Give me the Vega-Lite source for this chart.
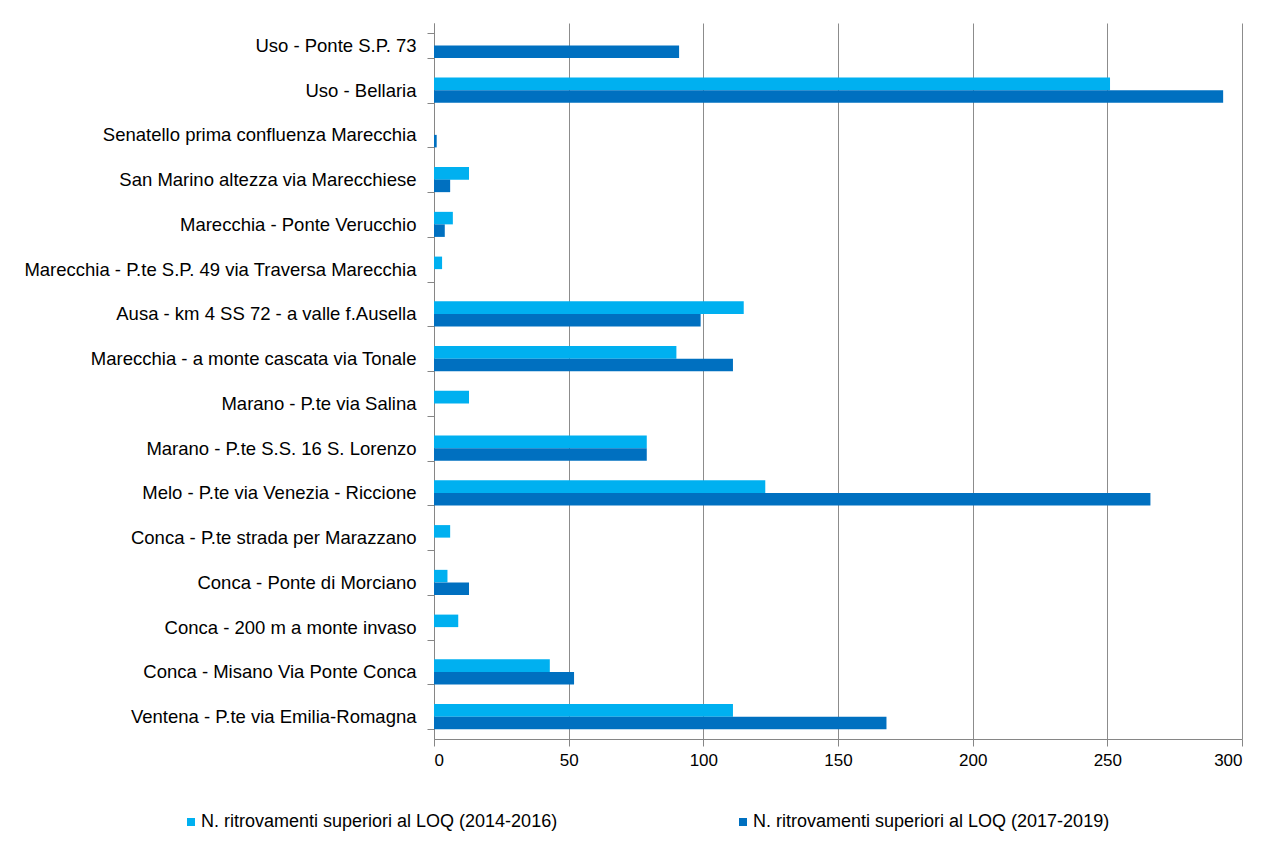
{
  "$schema": "https://vega.github.io/schema/vega-lite/v6.json",
  "autosize": {"type": "none"},
  "width": 808,
  "height": 716,
  "padding": {"left": 434, "top": 23, "right": 36, "bottom": 121},
  "background": "white",
  "config": {
    "font": "Liberation Sans",
    "view": {"stroke": null}
  },
  "data": {
    "values": [
      {"station": "Uso - Ponte S.P. 73", "series": "N. ritrovamenti superiori al LOQ (2017-2019)", "value": 91},
      {"station": "Uso - Bellaria ", "series": "N. ritrovamenti superiori al LOQ (2014-2016)", "value": 251},
      {"station": "Uso - Bellaria ", "series": "N. ritrovamenti superiori al LOQ (2017-2019)", "value": 293},
      {"station": "Senatello prima confluenza Marecchia", "series": "N. ritrovamenti superiori al LOQ (2017-2019)", "value": 1},
      {"station": "San Marino  altezza  via Marecchiese", "series": "N. ritrovamenti superiori al LOQ (2014-2016)", "value": 13},
      {"station": "San Marino  altezza  via Marecchiese", "series": "N. ritrovamenti superiori al LOQ (2017-2019)", "value": 6},
      {"station": "Marecchia - Ponte Verucchio", "series": "N. ritrovamenti superiori al LOQ (2014-2016)", "value": 7},
      {"station": "Marecchia - Ponte Verucchio", "series": "N. ritrovamenti superiori al LOQ (2017-2019)", "value": 4},
      {"station": "Marecchia - P.te S.P. 49 via Traversa  Marecchia", "series": "N. ritrovamenti superiori al LOQ (2014-2016)", "value": 3},
      {"station": "Ausa - km 4 SS 72  - a valle f.Ausella", "series": "N. ritrovamenti superiori al LOQ (2014-2016)", "value": 115},
      {"station": "Ausa - km 4 SS 72  - a valle f.Ausella", "series": "N. ritrovamenti superiori al LOQ (2017-2019)", "value": 99},
      {"station": "Marecchia - a monte cascata via Tonale", "series": "N. ritrovamenti superiori al LOQ (2014-2016)", "value": 90},
      {"station": "Marecchia - a monte cascata via Tonale", "series": "N. ritrovamenti superiori al LOQ (2017-2019)", "value": 111},
      {"station": "Marano - P.te via Salina", "series": "N. ritrovamenti superiori al LOQ (2014-2016)", "value": 13},
      {"station": "Marano - P.te S.S. 16  S. Lorenzo", "series": "N. ritrovamenti superiori al LOQ (2014-2016)", "value": 79},
      {"station": "Marano - P.te S.S. 16  S. Lorenzo", "series": "N. ritrovamenti superiori al LOQ (2017-2019)", "value": 79},
      {"station": "Melo - P.te via Venezia  - Riccione", "series": "N. ritrovamenti superiori al LOQ (2014-2016)", "value": 123},
      {"station": "Melo - P.te via Venezia  - Riccione", "series": "N. ritrovamenti superiori al LOQ (2017-2019)", "value": 266},
      {"station": "Conca - P.te strada per Marazzano", "series": "N. ritrovamenti superiori al LOQ (2014-2016)", "value": 6},
      {"station": "Conca - Ponte di Morciano", "series": "N. ritrovamenti superiori al LOQ (2014-2016)", "value": 5},
      {"station": "Conca - Ponte di Morciano", "series": "N. ritrovamenti superiori al LOQ (2017-2019)", "value": 13},
      {"station": "Conca - 200  m a monte invaso", "series": "N. ritrovamenti superiori al LOQ (2014-2016)", "value": 9},
      {"station": "Conca - Misano Via Ponte Conca", "series": "N. ritrovamenti superiori al LOQ (2014-2016)", "value": 43},
      {"station": "Conca - Misano Via Ponte Conca", "series": "N. ritrovamenti superiori al LOQ (2017-2019)", "value": 52},
      {"station": "Ventena - P.te via Emilia-Romagna", "series": "N. ritrovamenti superiori al LOQ (2014-2016)", "value": 111},
      {"station": "Ventena - P.te via Emilia-Romagna", "series": "N. ritrovamenti superiori al LOQ (2017-2019)", "value": 168}
    ]
  },
  "mark": {"type": "bar"},
  "encoding": {
    "y": {
      "field": "station",
      "type": "nominal",
      "sort": null,
      "scale": {"paddingInner": 0.44, "paddingOuter": 0.22},
      "axis": {
        "title": null,
        "labelFontSize": 18.5,
        "labelColor": "#000000",
        "labelPadding": 11,
        "labelLimit": 500,
        "tickBand": "extent",
        "tickSize": 7,
        "tickColor": "#868686",
        "domainColor": "#868686",
        "grid": false
      }
    },
    "yOffset": {
      "field": "series",
      "type": "nominal",
      "sort": ["N. ritrovamenti superiori al LOQ (2014-2016)", "N. ritrovamenti superiori al LOQ (2017-2019)"],
      "scale": {"paddingInner": 0, "paddingOuter": 0}
    },
    "x": {
      "field": "value",
      "type": "quantitative",
      "scale": {"domain": [0, 300], "nice": false},
      "axis": {
        "title": null,
        "values": [0, 50, 100, 150, 200, 250, 300],
        "labelFontSize": 17,
        "labelColor": "#000000",
        "labelPadding": 6,
        "tickSize": 7,
        "tickColor": "#868686",
        "domainColor": "#868686",
        "gridColor": "#8c8c8c",
        "gridOpacity": 1,
        "grid": true
      }
    },
    "color": {
      "field": "series",
      "type": "nominal",
      "scale": {
        "domain": ["N. ritrovamenti superiori al LOQ (2014-2016)", "N. ritrovamenti superiori al LOQ (2017-2019)"],
        "range": ["#00B0F0", "#0070C0"]
      },
      "legend": {
        "title": null,
        "orient": "none",
        "legendX": -252,
        "legendY": 790,
        "direction": "horizontal",
        "symbolType": "square",
        "symbolSize": 64,
        "symbolStrokeWidth": 0,
        "labelFontSize": 18,
        "labelColor": "#000000",
        "labelOffset": 1,
        "labelLimit": 500,
        "columnPadding": 176
      }
    }
  }
}
